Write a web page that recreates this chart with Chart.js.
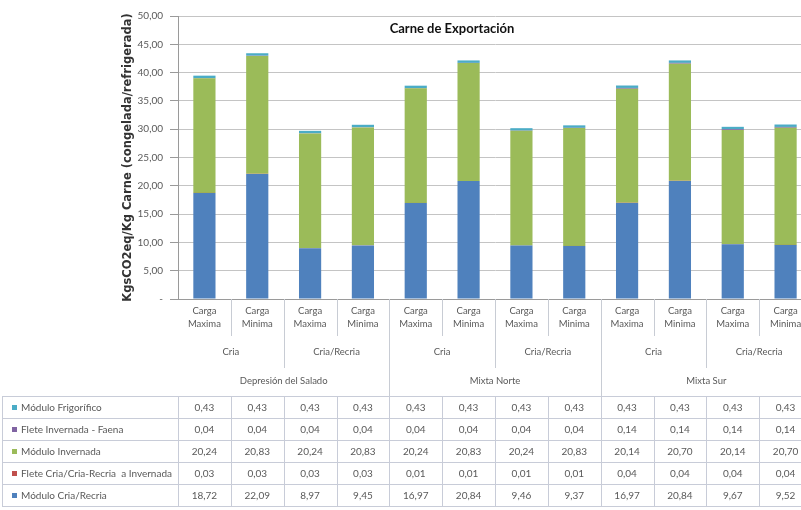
<!DOCTYPE html>
<html>
<head>
<meta charset="utf-8">
<script src="https://cdn.jsdelivr.net/npm/chart.js@4.4.1/dist/chart.umd.min.js"></script>
<style>
  html, body { margin: 0; padding: 0; overflow: hidden; background: #ffffff; }
  #wrap { position: absolute; left: 0; top: 0; width: 812px; height: 510px; }
</style>
</head>
<body>
<div id="wrap"><canvas id="chart"></canvas></div>
<script>
// Categories: load level, production system, region
const cargas = [
  ["Carga", "Maxima"], ["Carga", "Minima"], ["Carga", "Maxima"], ["Carga", "Minima"],
  ["Carga", "Maxima"], ["Carga", "Minima"], ["Carga", "Maxima"], ["Carga", "Minima"],
  ["Carga", "Maxima"], ["Carga", "Minima"], ["Carga", "Maxima"], ["Carga", "Minima"]
];
const sistemas = ["Cria", "Cria/Recria", "Cria", "Cria/Recria", "Cria", "Cria/Recria"];
const regiones = ["Depresión del Salado", "Mixta Norte", "Mixta Sur"];

// Emissions per stage (kg CO2eq / kg meat), stacked bottom to top
const moduloCriaRecria    = [18.72, 22.09, 8.97, 9.45, 16.97, 20.84, 9.46, 9.37, 16.97, 20.84, 9.67, 9.52];
const fleteCriaInvernada  = [0.03, 0.03, 0.03, 0.03, 0.01, 0.01, 0.01, 0.01, 0.04, 0.04, 0.04, 0.04];
const moduloInvernada     = [20.24, 20.83, 20.24, 20.83, 20.24, 20.83, 20.24, 20.83, 20.14, 20.70, 20.14, 20.70];
const fleteInvernadaFaena = [0.04, 0.04, 0.04, 0.04, 0.04, 0.04, 0.04, 0.04, 0.14, 0.14, 0.14, 0.14];
const moduloFrigorifico   = [0.43, 0.43, 0.43, 0.43, 0.43, 0.43, 0.43, 0.43, 0.43, 0.43, 0.43, 0.43];

const seriesNames = [
  "Módulo Cria/Recria",
  "Flete Cria/Cria-Recria  a Invernada",
  "Módulo Invernada",
  "Flete Invernada - Faena",
  "Módulo Frigorífico"
];
const seriesValues = [moduloCriaRecria, fleteCriaInvernada, moduloInvernada, fleteInvernadaFaena, moduloFrigorifico];
const seriesColors = ["#4F81BD", "#C0504D", "#9BBB59", "#8064A2", "#4BACC6"];

const yTicks = [0, 5, 10, 15, 20, 25, 30, 35, 40, 45, 50];
const chartTitle = "Carne de Exportación";
const yTitle = "KgsCO2eq/Kg Carne (congelada/refrigerada)";

const BODY = "Lato, 'Open Sans', Arial, sans-serif";
const fmt = v => v.toFixed(2).replace('.', ',');

// Multi-level labels and data table under the x axis
const tablePlugin = {
  id: 'tablePlugin',
  afterDraw(chart) {
    const ctx = chart.ctx;
    const area = chart.chartArea;
    const x = chart.scales.x;
    const n = cargas.length;
    const w = (area.right - area.left) / n;
    const bound = k => Math.round(area.left + k * w) + 0.5;
    const base = area.bottom;
    const lvl1 = base + 37, lvl2 = base + 69, tableTop = base + 97, rowH = 22;

    ctx.save();
    // chart title inside the plot
    ctx.font = "bold 13px " + BODY;
    ctx.textAlign = 'center';
    ctx.textBaseline = 'middle';
    const tx = 452, ty = 29;
    const tw = ctx.measureText(chartTitle).width;
    ctx.fillStyle = '#ffffff';
    ctx.fillRect(tx - tw / 2 - 4, ty - 9, tw + 8, 18);
    ctx.fillStyle = '#111111';
    ctx.fillText(chartTitle, tx, ty);

    // divider lines under the axis
    ctx.strokeStyle = '#c8ccd4';
    ctx.lineWidth = 1;
    for (let k = 1; k < n; k++) {
      let end = lvl1;
      if (k % 4 === 0) end = tableTop;
      else if (k % 2 === 0) end = lvl2;
      ctx.beginPath();
      ctx.moveTo(bound(k), base);
      ctx.lineTo(bound(k), end);
      ctx.stroke();
    }

    // level 2 and 3 labels
    ctx.font = "9.5px " + BODY;
    ctx.fillStyle = '#595959';
    sistemas.forEach((s, i) => {
      const cx = (x.getPixelForValue(2 * i) + x.getPixelForValue(2 * i + 1)) / 2;
      ctx.fillText(s, cx, base + 53);
    });
    regiones.forEach((r, i) => {
      const cx = (x.getPixelForValue(4 * i) + x.getPixelForValue(4 * i + 3)) / 2;
      ctx.fillText(r, cx, base + 82);
    });

    // data table
    const rows = seriesNames.length;
    ctx.strokeStyle = '#c8ccd8';
    for (let r = 0; r <= rows; r++) {
      const y = tableTop + r * rowH + 0.5;
      ctx.beginPath();
      ctx.moveTo(2, y);
      ctx.lineTo(area.right, y);
      ctx.stroke();
    }
    for (let k = 0; k <= n; k++) {
      ctx.beginPath();
      ctx.moveTo(bound(k), tableTop);
      ctx.lineTo(bound(k), tableTop + rows * rowH);
      ctx.stroke();
    }
    ctx.beginPath();
    ctx.moveTo(2.5, tableTop);
    ctx.lineTo(2.5, tableTop + rows * rowH);
    ctx.stroke();

    ctx.font = "10px " + BODY;
    for (let r = 0; r < rows; r++) {
      const si = rows - 1 - r;
      const cy = tableTop + r * rowH + rowH / 2 + 1;
      ctx.fillStyle = seriesColors[si];
      ctx.fillRect(12, cy - 3, 5, 5);
      ctx.fillStyle = '#595959';
      ctx.textAlign = 'left';
      ctx.fillText(seriesNames[si], 21, cy);
      ctx.textAlign = 'center';
      seriesValues[si].forEach((v, i) => {
        ctx.fillText(fmt(v), x.getPixelForValue(i), cy);
      });
    }
    ctx.restore();
  }
};

new Chart(document.getElementById('chart'), {
  type: 'bar',
  data: {
    labels: cargas,
    datasets: seriesNames.map((name, i) => ({
      label: name,
      data: seriesValues[i],
      backgroundColor: seriesColors[i],
      borderWidth: 0,
      barPercentage: 0.42,
      categoryPercentage: 1
    }))
  },
  options: {
    responsive: true,
    maintainAspectRatio: false,
    animation: false,
    devicePixelRatio: 1,
    layout: { padding: { top: 16, right: 0, left: 0, bottom: 0 } },
    plugins: { legend: { display: false }, tooltip: { enabled: false }, title: { display: false } },
    scales: {
      x: {
        stacked: true,
        grid: { display: false, drawTicks: false, tickLength: 0 },
        border: { display: true, color: '#9a9a9a' },
        ticks: {
          autoSkip: false, maxRotation: 0, minRotation: 0, padding: 5,
          color: '#595959', font: { family: BODY, size: 9.5, lineHeight: 1.4 }
        },
        afterFit(scale) { scale.height = 211; }
      },
      y: {
        stacked: true,
        min: 0, max: 50,
        afterBuildTicks(scale) { scale.ticks = yTicks.map(v => ({ value: v })); },
        grid: { color: '#c4c4c4', tickLength: 8, tickColor: '#9a9a9a' },
        border: { display: true, color: '#9a9a9a' },
        ticks: {
          padding: 7, color: '#595959',
          font: { family: BODY, size: 10 },
          callback: v => v === 0 ? '-' : fmt(v)
        },
        title: {
          display: true, text: yTitle, color: '#333333',
          font: { family: "'DejaVu Sans', Verdana, sans-serif", size: 11.5, weight: 'bold' },
          padding: { top: 121, bottom: 0 }
        },
        afterFit(scale) { scale.width = 178; }
      }
    }
  },
  plugins: [tablePlugin]
});
</script>
</body>
</html>
